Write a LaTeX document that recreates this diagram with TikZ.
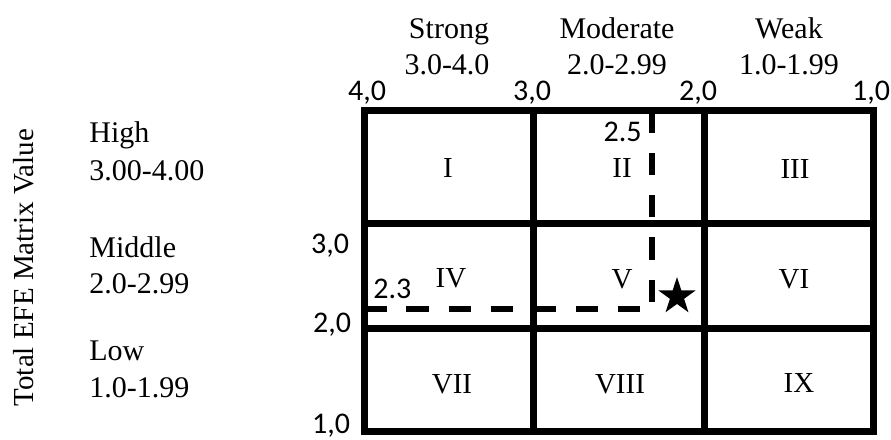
\documentclass[tikz,border=0pt]{standalone}
\usepackage{fontspec}
\usetikzlibrary{shapes.geometric}
\newfontfamily\numfont{Carlito}
\newfontfamily\romfont{Liberation Serif}

\begin{document}
\begin{tikzpicture}[x=0.5pt, y=0.5pt,
        every node/.style={inner sep=0pt},
        gridline/.style={line width=3.5pt, black},
        guideline/.style={line width=3pt, black, dash pattern=on 11.25pt off 9.9pt},
        colhead/.style={font=\romfont\fontsize{15}{18}\selectfont, anchor=base},
        rowlabel/.style={font=\romfont\fontsize{15}{18}\selectfont, anchor=base west},
        axisnum/.style={font=\numfont\fontsize{15}{18}\selectfont, anchor=base},
        cellnum/.style={font=\romfont\fontsize{14.5}{17}\selectfont, anchor=base}]
    \useasboundingbox (0,0) rectangle (891,-440);
    % position lines
    \draw [guideline] (364,-308.5) -- (641,-308.5);
    \draw [guideline] (652,-302) -- (652,-110);
    % matrix
    \draw [gridline] (364,-110) rectangle (873,-431);
    \draw [gridline] (533,-110) -- (533,-431);
    \draw [gridline] (704,-110) -- (704,-431);
    \draw [gridline] (364,-223) -- (873,-223);
    \draw [gridline] (364,-328) -- (873,-328);
    % column heads
    \node [colhead] (strong) at (449,-38) {Strong};
    \node [colhead] (strongrange) at (447,-74) {3.0-4.0};
    \node [colhead] (moderate) at (617,-38) {Moderate};
    \node [colhead] (moderaterange) at (617,-74) {2.0-2.99};
    \node [colhead] (weak) at (789,-38) {Weak};
    \node [colhead] (weakrange) at (789,-74) {1.0-1.99};
    \node [axisnum] (x40) at (367,-100) {4,0};
    \node [axisnum] (x30) at (532,-100) {3,0};
    \node [axisnum] (x20) at (698,-100) {2,0};
    \node [axisnum] (x10) at (871,-100) {1,0};
    % row labels
    \node [cellnum, rotate=90] (efe) at (33,-267.5) {Total EFE Matrix Value};
    \node [rowlabel] (high) at (89,-142) {High};
    \node [rowlabel] (highrange) at (89,-180) {3.00-4.00};
    \node [rowlabel] (middle) at (89,-257) {Middle};
    \node [rowlabel] (middlerange) at (89,-293) {2.0-2.99};
    \node [rowlabel] (low) at (89,-360) {Low};
    \node [rowlabel] (lowrange) at (89,-397) {1.0-1.99};
    \node [axisnum] (y30) at (330,-253) {3,0};
    \node [axisnum] (y20) at (332,-332) {2,0};
    \node [axisnum] (y10) at (331,-433) {1,0};
    % cells
    \node [cellnum] (c1) at (448,-177) {I};
    \node [cellnum] (c2) at (622,-177) {II};
    \node [cellnum] (c3) at (795,-178) {III};
    \node [cellnum] (c4) at (451,-287) {IV};
    \node [cellnum] (c5) at (622,-288) {V};
    \node [cellnum] (c6) at (794,-288) {VI};
    \node [cellnum] (c7) at (452,-393) {VII};
    \node [cellnum] (c8) at (620,-393) {VIII};
    \node [cellnum] (c9) at (799,-392) {IX};
    % scores
    \node [axisnum, anchor=base east] (ifescore) at (642,-141) {2.5};
    \node [axisnum, anchor=base west] (efescore) at (373,-298) {2.3};
    \node [star, star points=5, star point ratio=2.618, fill, minimum size=19.5pt] (position) at (677,-296.5) {};
\end{tikzpicture}
\end{document}
